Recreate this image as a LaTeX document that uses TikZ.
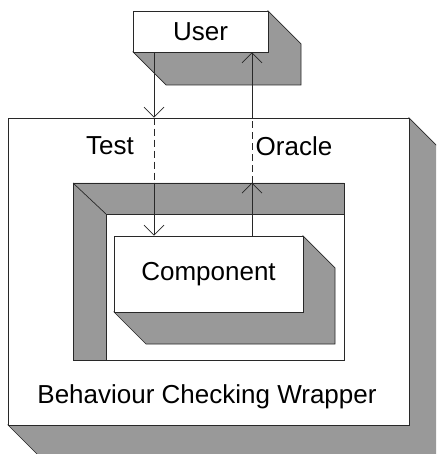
\documentclass[tikz,border=0pt]{standalone}
\usepackage{fontspec}
\setmainfont{Liberation Sans}
\usetikzlibrary{arrows.meta}
\definecolor{shade}{RGB}{153,153,153}
\definecolor{ln}{RGB}{40,40,40}
\begin{document}
\begin{tikzpicture}[x=1pt,y=-1pt,line width=0.7pt,
  every node/.style={font=\fontsize{26}{30}\selectfont},
  front/.style={draw=ln,fill=white,inner sep=0pt},
  shadow/.style={draw=ln,fill=shade},
  lbl/.style={inner sep=0pt},
  arr/.style={draw=ln,-{Straight Barb[length=10pt,width=20pt]}},
  dsh/.style={draw=ln,dash pattern=on 7pt off 4pt}]
\useasboundingbox (0,0) rectangle (436,454);
\clip (0,0) rectangle (436,454);
% outer wrapper
\path[shadow] (409,118)--(442,151)--(442,458)--(41,458)--(8,425)--(409,425)--cycle;
\node[front,minimum width=401pt,minimum height=307pt] (wrapper) at (208.5,271.5) {};
\node[lbl] (wlabel) at (207,397) {Behaviour Checking Wrapper};
\node[lbl] (test) at (110,146) {Test};
\node[lbl] (oracle) at (294,146) {Oracle};
% inner frame
\node[front,minimum width=271pt,minimum height=177pt] (frame) at (208.5,271.5) {};
\path[shadow] (73,183)--(344,183)--(344,214)--(106,214)--(106,360)--(73,360)--cycle;
\draw[ln] (73,183)--(106,214);
% component
\path[shadow] (303,236)--(335,268)--(335,344)--(146,344)--(114,312)--(303,312)--cycle;
\node[front,minimum width=189pt,minimum height=76pt] (comp) at (208.5,274) {Component};
% user
\path[shadow] (268,11)--(301,44)--(301,85)--(166,85)--(133,52)--(268,52)--cycle;
\node[front,minimum width=135pt,minimum height=41pt] (user) at (200.5,31.5) {User};
% connectors
\coordinate (tx) at (154,0);
\coordinate (ox) at (252,0);
\draw[arr] (user.south -| tx) -- (wrapper.north -| tx);
\draw[dsh] (wrapper.north -| tx) -- (frame.north -| tx);
\draw[arr] (frame.north -| tx) -- (comp.north -| tx);
\draw[arr] (comp.north -| ox) -- (frame.north -| ox);
\draw[dsh] (frame.north -| ox) -- (wrapper.north -| ox);
\draw[arr] (wrapper.north -| ox) -- (user.south -| ox);
\end{tikzpicture}
\end{document}
